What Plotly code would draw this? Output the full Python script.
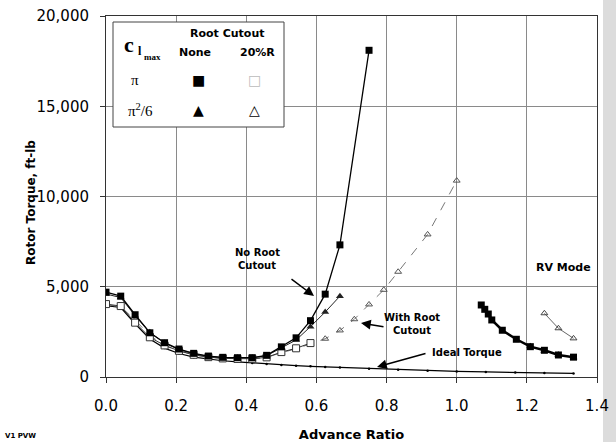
import plotly.graph_objects as go

# ---------------- data ----------------
x_fwd = [0, 0.042, 0.083, 0.125, 0.167, 0.208, 0.25, 0.292, 0.333, 0.375, 0.417,
         0.458, 0.5, 0.542, 0.583, 0.625, 0.667, 0.75]
sq_filled = [4700, 4480, 3450, 2450, 1900, 1550, 1310, 1160, 1090, 1070, 1070,
             1200, 1670, 2170, 3120, 4590, 7320, 18100]

x_sq_open = [0, 0.042, 0.083, 0.125, 0.167, 0.208, 0.25, 0.292, 0.333, 0.375, 0.417,
             0.458, 0.5, 0.542, 0.583]
sq_open = [4040, 3930, 3010, 2200, 1750, 1450, 1230, 1100, 1030, 1000, 1010,
           1090, 1380, 1590, 1880]

x_tri_filled = [0, 0.042, 0.083, 0.125, 0.167, 0.208, 0.25, 0.292, 0.333, 0.375, 0.417,
                0.458, 0.5, 0.542, 0.583, 0.625, 0.667]
tri_filled = [4600, 4400, 3400, 2480, 1880, 1520, 1290, 1140, 1080, 1060, 1060,
              1180, 1600, 2050, 2790, 3600, 4480]

x_tri_open = [0, 0.042, 0.083, 0.125, 0.167, 0.208, 0.25, 0.292, 0.333, 0.375, 0.417,
              0.458, 0.5, 0.542, 0.583, 0.625, 0.667, 0.708, 0.75, 0.792, 0.833, 0.917, 1.0]
tri_open = [4000, 3900, 3150, 2300, 1750, 1450, 1230, 1100, 1030, 1000, 1000,
            1080, 1350, 1560, 1850, 2120, 2580, 3200, 4020, 4830, 5830, 7900, 10880]

# RV mode
x_rv_sq = [1.07, 1.08, 1.09, 1.10, 1.13, 1.17, 1.21, 1.25, 1.29, 1.333]
rv_sq = [3990, 3750, 3490, 3160, 2590, 2090, 1680, 1480, 1220, 1100]
x_rv_tri_filled = [1.21, 1.25, 1.29, 1.333]
rv_tri_filled = [1700, 1450, 1230, 1080]
x_rv_tri_open = [1.25, 1.29, 1.333]
rv_tri_open = [3530, 2700, 2140]

x_ideal = [0, 0.042, 0.083, 0.125, 0.167, 0.208, 0.25, 0.292, 0.333, 0.375, 0.417,
           0.458, 0.5, 0.542, 0.583, 0.625, 0.667, 0.75, 0.833, 0.917, 1.0,
           1.083, 1.167, 1.25, 1.333]
ideal = [3950, 3850, 2950, 2100, 1600, 1300, 1100, 980, 900, 840, 780,
         720, 670, 630, 590, 560, 530, 460, 400, 350, 310,
         280, 250, 225, 200]

x_ticks = [0, 0.2, 0.4, 0.6, 0.8, 1.0, 1.2, 1.4]
y_ticks = [0, 5000, 10000, 15000, 20000]

# ---------------- layout helpers ----------------
W, H = 616, 442
ML, MR, MT, MB = 106, 19, 16, 65
PW, PH = W - ML - MR, H - MT - MB
XMAX, YMAX = 1.4, 20000


def dx(p):
    return (p - ML) / PW * XMAX


def dy(p):
    return (H - MB - p) / PH * YMAX


def ppx(p):
    return (p - ML) / PW


def ppy(p):
    return (H - MB - p) / PH


fig = go.Figure()

# ideal torque
fig.add_trace(go.Scatter(x=x_ideal, y=ideal, mode="lines+markers",
                         line=dict(color="black", width=1.2),
                         marker=dict(size=2.5, color="black")))
# pi^2/6, 20%R (open triangles, dashed gray)
fig.add_trace(go.Scatter(x=x_tri_open, y=tri_open, mode="lines+markers",
                         line=dict(color="#777", width=1, dash="dash"),
                         marker=dict(symbol="triangle-up-open", size=6, color="#555",
                                     line=dict(width=1))))
# pi, 20%R (open squares)
fig.add_trace(go.Scatter(x=x_sq_open, y=sq_open, mode="lines+markers",
                         line=dict(color="#333", width=1),
                         marker=dict(symbol="square", size=7, color="white",
                                     line=dict(color="#333", width=1))))
# pi^2/6, none (filled triangles)
fig.add_trace(go.Scatter(x=x_tri_filled, y=tri_filled, mode="lines+markers",
                         line=dict(color="#222", width=1),
                         marker=dict(symbol="triangle-up", size=7, color="#222")))
# pi, none (filled squares)
fig.add_trace(go.Scatter(x=x_fwd, y=sq_filled, mode="lines+markers",
                         line=dict(color="black", width=1.3),
                         marker=dict(symbol="square", size=7, color="black")))
# RV mode
fig.add_trace(go.Scatter(x=x_rv_tri_open, y=rv_tri_open, mode="lines+markers",
                         line=dict(color="#666", width=1),
                         marker=dict(symbol="triangle-up-open", size=6, color="#444",
                                     line=dict(width=1))))
fig.add_trace(go.Scatter(x=x_rv_sq, y=rv_sq, mode="lines+markers",
                         line=dict(color="black", width=2.5),
                         marker=dict(symbol="square", size=7, color="black")))
fig.add_trace(go.Scatter(x=x_rv_tri_filled, y=rv_tri_filled, mode="markers",
                         marker=dict(symbol="triangle-up", size=7, color="black")))

ann = []


def text(px_, py_, s, size=10, family="DejaVu Sans", color="black"):
    ann.append(dict(x=dx(px_), y=dy(py_), xref="x", yref="y", text=s, showarrow=False,
                    font=dict(family=family, size=size, color=color),
                    xanchor="center", yanchor="middle"))


def arrow(tx, ty, hx, hy):
    ann.append(dict(x=dx(hx), y=dy(hy), xref="x", yref="y", ax=tx - hx, ay=ty - hy,
                    text="", showarrow=True, arrowhead=2, arrowsize=1.3,
                    arrowwidth=1.5, arrowcolor="black"))


text(257, 252, "<b>No Root</b>")
text(257, 265, "<b>Cutout</b>")
arrow(290, 278, 314, 296)
text(412, 317, "<b>With Root</b>")
text(412, 330, "<b>Cutout</b>")
arrow(385, 327, 361, 323)
text(467, 352, "<b>Ideal Torque</b>")
arrow(427, 353, 377, 367)
text(563, 267, "<b>RV Mode</b>", size=11)

# legend box content
text(227, 33, "<b>Root Cutout</b>", size=11)
text(195, 52, "<b>None</b>", size=11)
text(257, 52, "<b>20%R</b>", size=11)
text(129, 44, "<b>c</b>", size=22, family="Liberation Serif")
text(140, 51, "<b>l</b>", size=12, family="Liberation Serif")
text(152, 57, "<b>max</b>", size=9, family="Liberation Serif")
text(135, 80, "π", size=15, family="Liberation Serif")
text(140, 110, "π<sup>2</sup>/6", size=15, family="Liberation Serif")
text(198, 80, "■", size=14, family="DejaVu Sans")
text(254, 80, "□", size=14, family="DejaVu Sans", color="#bbb")
text(198, 110, "▲", size=14, family="DejaVu Sans")
text(254, 110, "△", size=14, family="DejaVu Sans")

ann.append(dict(x=ppx(20), y=ppy(436), xref="paper", yref="paper",
                text="<b>V1 PVW</b>", showarrow=False, xanchor="center", yanchor="middle",
                font=dict(family="DejaVu Sans", size=7, color="black")))
# y-axis title placed as rotated annotation (sits between tick labels as in the reference)
ann.append(dict(x=ppx(31), y=ppy(203), xref="paper", yref="paper",
                text="<b>Rotor Torque, ft-lb</b>", showarrow=False, textangle=-90,
                xanchor="center", yanchor="middle",
                font=dict(family="DejaVu Sans", size=12, color="black")))

shapes = [dict(type="rect", xref="x", yref="y", x0=dx(113), x1=dx(284), y0=dy(127), y1=dy(22),
               line=dict(color="#444", width=1), fillcolor="white", layer="above"),
          dict(type="rect", xref="paper", yref="paper",
               x0=ppx(603), x1=ppx(W), y0=ppy(H), y1=ppy(0),
               line=dict(width=0), fillcolor="#dcdcdc", layer="below")]

fig.update_layout(
    width=W, height=H, margin=dict(l=ML, r=MR, t=MT, b=MB, autoexpand=False),
    paper_bgcolor="white", plot_bgcolor="white", showlegend=False,
    annotations=ann, shapes=shapes,
    font=dict(family="DejaVu Sans", color="black"),
)
fig.update_xaxes(range=[0, XMAX], tickvals=x_ticks, tickformat=".1f",
                 tickfont=dict(size=15, family="DejaVu Sans"),
                 showgrid=True, gridcolor="#8a8a8a", gridwidth=1,
                 showline=True, linecolor="#333", linewidth=1, mirror=True,
                 ticks="outside", ticklen=5, tickcolor="#333", zeroline=False,
                 ticklabelstandoff=10, automargin=False,
                 title=dict(text="<b>Advance Ratio</b>", font=dict(size=13, family="DejaVu Sans"),
                            standoff=16))
fig.update_yaxes(range=[0, YMAX], tickvals=y_ticks, tickformat=",",
                 tickfont=dict(size=15, family="DejaVu Sans"),
                 showgrid=True, gridcolor="#8a8a8a", gridwidth=1,
                 showline=True, linecolor="#333", linewidth=1, mirror=True,
                 ticks="outside", ticklen=5, tickcolor="#333", zeroline=False,
                 ticklabelstandoff=8, automargin=False)

fig.write_html("out.html")
